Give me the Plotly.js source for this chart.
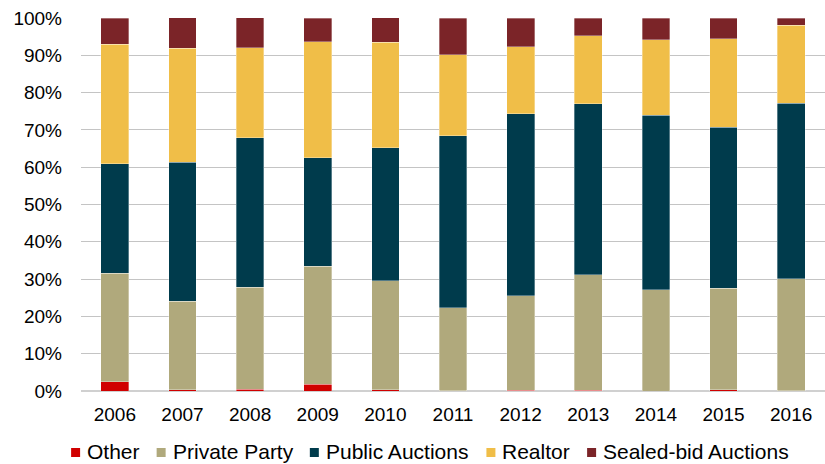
<!DOCTYPE html>
<html>
<head>
<meta charset="utf-8">
<script src="https://cdn.plot.ly/plotly-3.0.1.min.js"></script>
<style>
html,body{margin:0;padding:0;background:#fff;}
#chart{width:825px;height:464px;}
</style>
</head>
<body>
<div id="chart"></div>
<script>
const years = ['2006','2007','2008','2009','2010','2011','2012','2013','2014','2015','2016'];
const other = [2.5, 0.35, 0.45, 1.8, 0.35, 0.1, 0.2, 0.15, 0, 0.3, 0.1];
const privateParty = [29.1, 23.7, 27.4, 31.7, 29.2, 22.2, 25.3, 31.0, 27.1, 27.3, 30.0];
const publicAuctions = [29.3, 37.3, 40.1, 29.0, 35.7, 46.1, 48.8, 45.9, 46.8, 43.1, 47.1];
const realtor = [32.1, 30.6, 24.1, 31.1, 28.2, 21.7, 18.0, 18.2, 20.3, 23.7, 20.8];
const sealedBid = [7.0, 8.1, 8.0, 6.4, 6.6, 9.9, 7.7, 4.7, 5.8, 5.6, 2.0];
const yTicks = [0,10,20,30,40,50,60,70,80,90,100];

const seriesNames = ['Other','Private Party','Public Auctions','Realtor','Sealed-bid Auctions'];
const seriesData = [other, privateParty, publicAuctions, realtor, sealedBid];
const seriesColors = ['#D00000','#B0A97C','#003B4C','#F0BE48','#7B2428'];

const traces = seriesNames.map((n,i)=>({
  type:'bar', name:n, x:years, y:seriesData[i],
  marker:{color:seriesColors[i], line:{color:'rgba(255,255,255,0.55)', width:0.6}},
  hoverinfo:'x+y+name'
}));

// plot area geometry (px) for placing the custom legend
const W = 825, H = 464, M = {l:81, r:0, t:18, b:73};
const pw = W - M.l - M.r, ph = H - M.t - M.b;
const toPX = px => (px - M.l) / pw;
const toPY = py => (H - M.b - py) / ph;

const legendFont = '"Liberation Sans", Arial, sans-serif';
const legendSize = 21;
const ctx = document.createElement('canvas').getContext('2d');
ctx.font = legendSize + 'px ' + legendFont;
const sym = 9, symGap = 6, itemGap = 18, legendCenterX = 430, legendY = 452;
const widths = seriesNames.map(n => ctx.measureText(n).width);
const total = widths.reduce((a,w)=>a + sym + symGap + w, 0) + itemGap*(seriesNames.length-1);
let cx = legendCenterX - total/2;
const shapes = [], annotations = [];
seriesNames.forEach((n,i)=>{
  shapes.push({type:'rect', xref:'paper', yref:'paper', layer:'above',
    x0:toPX(cx), x1:toPX(cx+sym), y0:toPY(legendY+sym/2+0.5), y1:toPY(legendY-sym/2+0.5),
    fillcolor:seriesColors[i], line:{width:0}});
  annotations.push({xref:'paper', yref:'paper', x:toPX(cx+sym+symGap), y:toPY(legendY),
    xanchor:'left', yanchor:'middle', showarrow:false, text:n,
    font:{family:legendFont, size:legendSize, color:'#000'}, borderpad:0});
  cx += sym + symGap + widths[i] + itemGap;
});

const layout = {
  width:W, height:H,
  margin:M,
  barmode:'stack', bargap:0.59,
  paper_bgcolor:'#fff', plot_bgcolor:'#fff',
  font:{family:'"Liberation Sans", Arial, sans-serif', size:19, color:'#000'},
  xaxis:{type:'category', showgrid:false, zeroline:false, showline:false, automargin:false,
         ticks:'', ticklabelstandoff:10, tickfont:{size:19}},
  yaxis:{range:[0,100], tickvals:yTicks, ticktext:yTicks.map(v=>v+'%'), automargin:false,
         showgrid:true, gridcolor:'#C4C4C4', gridwidth:1, zeroline:true, zerolinecolor:'#D0D0D0', zerolinewidth:1.5,
         showline:false, ticks:'', ticklabelstandoff:18, tickfont:{size:19}, fixedrange:true},
  showlegend:false,
  shapes:shapes,
  annotations:annotations
};

Plotly.newPlot('chart', traces, layout, {displayModeBar:false, staticPlot:true});
</script>
</body>
</html>
